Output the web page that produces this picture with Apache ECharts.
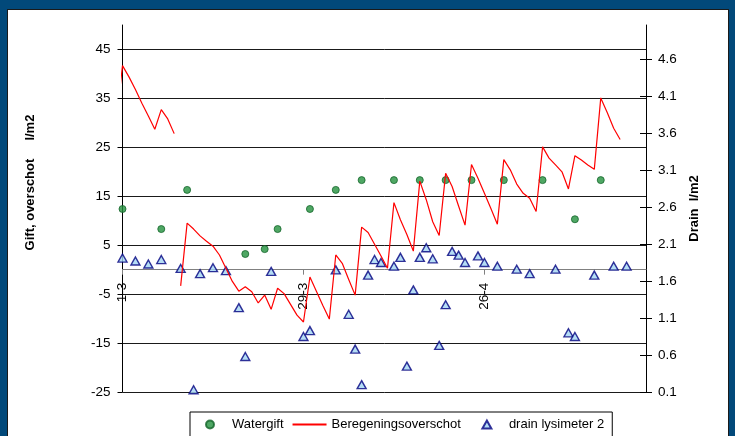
<!DOCTYPE html>
<html>
<head>
<meta charset="utf-8">
<script src="https://cdn.jsdelivr.net/npm/echarts@6/dist/echarts.min.js"></script>
<style>
  html, body { margin: 0; padding: 0; width: 735px; height: 436px; overflow: hidden; background: #02497a; }
  #panel { position: absolute; left: 7px; top: 9px; width: 722px; height: 440px; background: #fff; border: 1px solid #1a1a1a; box-sizing: border-box; }
  #chart { position: absolute; left: 0; top: 0; width: 735px; height: 436px; }
</style>
</head>
<body>
<div id="panel"></div>
<div id="chart"></div>
<script>
// Axis ticks (x is days counted from 1 March)
const xTickDays = [0, 28, 56];
const xTickLabels = ['1-3', '29-3', '26-4'];
const leftTicks = [-25, -15, -5, 5, 15, 25, 35, 45];
const rightTicks = [0.1, 0.6, 1.1, 1.6, 2.1, 2.6, 3.1, 3.6, 4.1, 4.6];

// Watergift (l/m2) on irrigation days
const watergiftDays = [0, 6, 10, 19, 22, 24, 29, 33, 37, 42, 46, 50, 54, 59, 65, 70, 74];
const watergift = [12.4, 8.3, 16.3, 3.2, 4.2, 8.3, 12.4, 16.3, 18.3, 18.3, 18.3, 18.3, 18.3, 18.3, 18.3, 10.3, 18.3];

// Beregeningsoverschot (l/m2); null separates the two runs
const overschotDays = [
  -0.5, 0, 1, 2, 3, 4, 5, 6, 7, 8,
  null,
  9, 10, 11, 12, 13, 14, 15, 16, 17, 18, 19, 20, 21, 22, 23, 24, 25, 26, 27, 28,
  29, 30, 31, 32, 33, 34, 35, 36, 37, 38, 39, 40, 41, 42, 43, 44, 45, 46, 47, 48,
  49, 50, 51, 52, 53, 54, 55, 56, 57, 58, 59, 60, 61, 62, 63, 64, 65, 66, 67, 68,
  69, 70, 71, 72, 73, 74, 75, 76, 77
];
const overschot = [
  35.8, 41.7, 39.4, 36.8, 34.0, 31.4, 28.7, 32.7, 30.8, 27.8,
  null,
  -3.3, 9.5, 8.3, 6.9, 5.8, 4.8, 3.0, 0.3, -2.4, -4.4, -3.5, -4.5, -6.8, -5.2, -8.1, -3.8, -4.9, -7.1, -9.3, -10.7,
  -1.5, -4.4, -7.3, -10.1, 3.0, 1.3, -2.0, -5.2, 8.7, 7.6, 5.2, 2.8, 0.3, 13.7, 10.2, 7.2, 3.8, 18.1, 14.3, 9.8,
  7.0, 19.7, 17.0, 13.0, 9.1, 21.5, 18.7, 15.6, 12.5, 9.3, 22.5, 20.4, 17.5, 15.6, 14.6, 11.9, 25.1, 22.8, 21.4, 20.0,
  16.5, 23.3, 22.4, 21.4, 20.5, 35.1, 32.1, 28.9, 26.6
];

// Drain lysimeter 2 (l/m2)
const drainDays = [0, 2, 4, 6, 9, 11, 12, 14, 16, 18, 19, 23, 28, 29, 33, 35, 36, 37, 38, 39, 40, 42, 43, 44, 45,
  46, 47, 48, 49, 50, 51, 52, 53, 55, 56, 58, 61, 63, 67, 69, 70, 73, 76, 78];
const drain = [1.91, 1.87, 1.83, 1.89, 1.77, 0.13, 1.70, 1.78, 1.74, 1.24, 0.58, 1.73, 0.85, 0.93, 1.75, 1.15, 0.68, 0.20, 1.68, 1.89, 1.85, 1.80, 1.92, 0.45, 1.48,
  1.92, 2.05, 1.90, 0.73, 1.28, 2.00, 1.95, 1.85, 1.94, 1.85, 1.80, 1.76, 1.70, 1.76, 0.90, 0.85, 1.68, 1.80, 1.80];

const FONT = '"Liberation Sans", Arial, sans-serif';

// plot box
const GRID = { left: 122.5, right: 89, top: 25, bottom: 44 };
const H = 436 - GRID.top - GRID.bottom;
const LEFT_MIN = -25, LEFT_MAX = 50;
const RIGHT_MIN = 0.1, RIGHT_MAX = 5.06;
// lift the date axis up to the zero line of the left axis
const xAxisOffset = -H * (0 - LEFT_MIN) / (LEFT_MAX - LEFT_MIN);

// legend key: small triangle centred in a 34x8 key box (corner moves keep the box size)
const LEGEND_TRIANGLE = 'path://M0,0 L0,0 M34,8 L34,8 M12.5,8 L17,0 L21.5,8 Z';

const pairs = (xs, ys) => xs.map((x, i) => (x === null ? ['-', '-'] : [x, ys[i]]));

const chart = echarts.init(document.getElementById('chart'), null, { renderer: 'canvas' });

const option = {
  backgroundColor: 'transparent',
  animation: false,
  textStyle: { fontFamily: FONT },
  grid: Object.assign({ containLabel: false, outerBoundsMode: 'none' }, GRID),
  legend: {
    left: 190, top: 412, orient: 'horizontal',
    itemWidth: 34, itemHeight: 8, itemGap: 8,
    padding: [6, 8, 10, 15],
    symbolKeepAspect: true,
    backgroundColor: '#fff', borderColor: '#000', borderWidth: 1, borderRadius: 0,
    textStyle: { fontSize: 13, color: '#000', fontFamily: FONT },
    data: [
      { name: 'Watergift', icon: 'circle' },
      { name: 'Beregeningsoverschot', itemStyle: { opacity: 0 } },
      { name: 'drain lysimeter 2', icon: LEGEND_TRIANGLE }
    ]
  },
  xAxis: {
    type: 'value', min: 0, max: 81, position: 'bottom', offset: xAxisOffset,
    axisLine: { show: true, onZero: false, lineStyle: { color: '#808080', width: 1 } },
    axisTick: { show: true, length: 5, customValues: xTickDays, lineStyle: { color: '#808080' } },
    axisLabel: {
      customValues: xTickDays, rotate: 90, margin: 13, fontSize: 13.5, color: '#000', fontFamily: FONT,
      formatter: v => xTickLabels[xTickDays.indexOf(v)] || ''
    },
    splitLine: { show: false }
  },
  yAxis: [
    {
      type: 'value', min: LEFT_MIN, max: LEFT_MAX, position: 'left',
      axisLine: { show: true, onZero: false, lineStyle: { color: '#000', width: 1 } },
      axisTick: { show: true, length: 5, customValues: leftTicks, lineStyle: { color: '#000' } },
      axisLabel: { customValues: leftTicks, fontSize: 13.5, color: '#000', margin: 12, fontFamily: FONT },
      splitLine: { show: true, lineStyle: { color: '#1a1a1a', width: 1 } },
      name: 'Gift, overschot     l/m2', nameLocation: 'middle', nameRotate: 90, nameGap: 86,
      nameTextStyle: { fontSize: 13, fontWeight: 'bold', color: '#000', fontFamily: FONT, padding: [0, 0, 0, 52] }
    },
    {
      type: 'value', min: RIGHT_MIN, max: RIGHT_MAX, position: 'right',
      axisLine: { show: true, onZero: false, lineStyle: { color: '#000', width: 1 } },
      axisTick: { show: true, length: 6, customValues: rightTicks, lineStyle: { color: '#000' } },
      axisLabel: { customValues: rightTicks, formatter: v => v.toFixed(1), fontSize: 13.5, color: '#000', margin: 12, fontFamily: FONT },
      splitLine: { show: false },
      name: 'Drain  l/m2', nameLocation: 'middle', nameRotate: 90, nameGap: 41,
      nameTextStyle: { fontSize: 13, fontWeight: 'bold', color: '#000', fontFamily: FONT }
    },
    {
      // inner half of the crossing ticks on the drain axis
      type: 'value', min: RIGHT_MIN, max: RIGHT_MAX, position: 'right',
      axisLine: { show: false, onZero: false },
      axisTick: { show: true, inside: true, length: 6, customValues: rightTicks, lineStyle: { color: '#000' } },
      axisLabel: { show: false },
      splitLine: { show: false }
    }
  ],
  series: [
    {
      name: 'Watergift', type: 'scatter', yAxisIndex: 0, clip: false,
      symbol: 'circle', symbolSize: 7,
      itemStyle: { color: '#23913d', borderColor: '#14652a', borderWidth: 1 },
      data: pairs(watergiftDays, watergift)
    },
    {
      name: 'Beregeningsoverschot', type: 'line', yAxisIndex: 0, clip: false,
      symbol: 'none', showSymbol: false, connectNulls: false,
      lineStyle: { color: '#ff0000', width: 1.2 }, itemStyle: { color: '#ff0000' },
      data: pairs(overschotDays, overschot)
    },
    {
      name: 'drain lysimeter 2', type: 'scatter', yAxisIndex: 1, clip: false,
      symbol: 'triangle', symbolSize: [9, 8],
      itemStyle: { color: '#a3d5f2', borderColor: '#00007f', borderWidth: 1.4 },
      data: pairs(drainDays, drain)
    }
  ]
};

chart.setOption(option);
</script>
</body>
</html>
